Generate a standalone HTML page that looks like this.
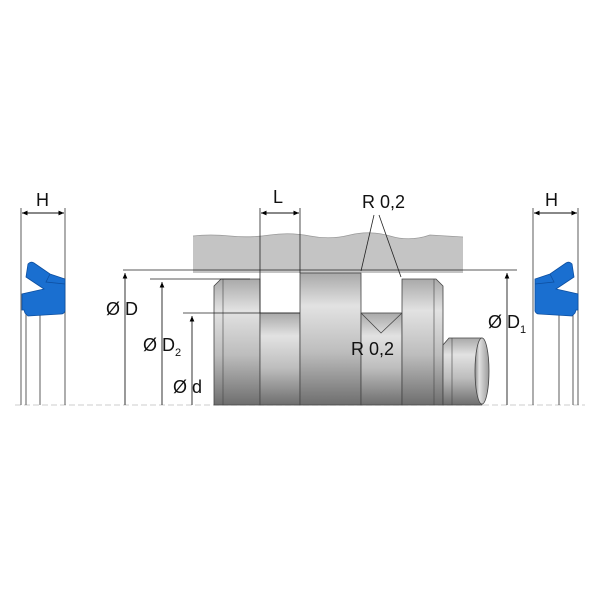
<!DOCTYPE html>
<html><head><style>
body{margin:0;background:#fff;}
svg{display:block;font-family:"Liberation Sans","DejaVu Sans",sans-serif;}
</style></head><body>
<svg width="600" height="600" viewBox="0 0 600 600" xmlns="http://www.w3.org/2000/svg">
<defs>
<linearGradient id="g" x1="0" y1="0" x2="0" y2="1">
<stop offset="0" stop-color="#a9a9a9"/><stop offset="0.25" stop-color="#e2e2e2"/><stop offset="0.6" stop-color="#bdbdbd"/><stop offset="1" stop-color="#6e6e6e"/>
</linearGradient>
<linearGradient id="gh" x1="0" y1="0" x2="1" y2="0">
<stop offset="0" stop-color="#8a8a8a"/><stop offset="0.3" stop-color="#e0e0e0"/><stop offset="1" stop-color="#9a9a9a"/>
</linearGradient>
<marker id="a" markerWidth="8" markerHeight="8" refX="7" refY="3" orient="auto"><path d="M0,0 L7,3 L0,6 z" fill="#000"/></marker>
<g id="seal">
<path d="M28,264 Q31,261 34,263 L50,274 L65,279 L65,311 Q64,314 61,314 L28,316 L25,313 L24,310 L22,310 L22,294 L44,289 L26,277 Z" fill="#1a6fd0" stroke="#0d4fa0" stroke-width="0.8"/>
<path d="M50,274 L46,282 L65,284" fill="none" stroke="#0d4fa0" stroke-width="0.8"/>
</g>
</defs>
<line x1="15" y1="405" x2="585" y2="405" stroke="#ccc" stroke-dasharray="6,3"/>
<g stroke="#333" stroke-width="0.8">
<line x1="21" y1="208" x2="21" y2="405"/><line x1="26" y1="300" x2="26" y2="405"/><line x1="40" y1="300" x2="40" y2="405"/><line x1="65" y1="208" x2="65" y2="405"/>
<line x1="533" y1="208" x2="533" y2="405"/><line x1="559" y1="300" x2="559" y2="405"/><line x1="573" y1="300" x2="573" y2="405"/><line x1="578" y1="208" x2="578" y2="405"/>
</g>
<use href="#seal"/>
<use href="#seal" transform="translate(600,0) scale(-1,1)"/>
<g stroke="#000" stroke-width="0.8" marker-end="url(#a)">
<line x1="22" y1="213" x2="64" y2="213"/>
<line x1="64" y1="213" x2="22" y2="213"/>
<line x1="534" y1="213" x2="577" y2="213"/>
<line x1="577" y1="213" x2="534" y2="213"/>
<line x1="261" y1="213" x2="299" y2="213"/>
<line x1="299" y1="213" x2="261" y2="213"/>
</g>
<path d="M193,236 Q210,234 230,236 T270,235 T310,236 T350,235 T390,236 T430,235 L463,237 L463,273 L193,273 Z" fill="#c4c4c4"/>
<path d="M193,236 Q210,234 230,236 T270,235 T310,236 T350,235 T390,236 T430,235 L463,237" fill="none" stroke="#999" stroke-width="0.8"/>
<path d="M214,286 L221,279 L260,279 L260,405 L214,405 Z" fill="url(#g)" stroke="#444" stroke-width="0.8"/>
<line x1="223" y1="279" x2="223" y2="405" stroke="#444" stroke-width="0.6"/>
<rect x="260" y="313" width="40" height="92" fill="url(#g)" stroke="#444" stroke-width="0.8"/>
<rect x="300" y="273" width="61" height="132" fill="url(#g)" stroke="#444" stroke-width="0.8"/>
<rect x="361" y="313" width="41" height="92" fill="url(#g)" stroke="#444" stroke-width="0.8"/>
<path d="M361,313 L381,333 L402,313" fill="none" stroke="#444" stroke-width="0.8"/>
<path d="M402,279 L436,279 L443,286 L443,405 L402,405 Z" fill="url(#g)" stroke="#444" stroke-width="0.8"/>
<line x1="434" y1="279" x2="434" y2="405" stroke="#444" stroke-width="0.6"/>
<path d="M443,345 L449,338 L482,338 L482,405 L443,405 Z" fill="url(#g)" stroke="#444" stroke-width="0.8"/>
<line x1="452" y1="338" x2="452" y2="405" stroke="#444" stroke-width="0.6"/>
<ellipse cx="482" cy="371" rx="7" ry="33" fill="url(#gh)" stroke="#444" stroke-width="0.8"/>
<g stroke="#222" stroke-width="0.8">
<line x1="123" y1="270" x2="517" y2="270"/>
<line x1="150" y1="279" x2="250" y2="279"/>
<line x1="183" y1="313" x2="300" y2="313"/>
<line x1="260" y1="208" x2="260" y2="313"/>
<line x1="300" y1="208" x2="300" y2="273"/>
<line x1="374" y1="215" x2="361" y2="271"/>
<line x1="379" y1="215" x2="401" y2="277"/>
</g>
<g stroke="#000" stroke-width="0.8" marker-end="url(#a)">
<line x1="125" y1="405" x2="125" y2="273"/>
<line x1="162" y1="405" x2="162" y2="282"/>
<line x1="192" y1="405" x2="192" y2="316"/>
<line x1="507" y1="405" x2="507" y2="273"/>
</g>
<g font-size="18" fill="#111">
<text x="36" y="206">H</text>
<text x="545" y="206">H</text>
<text x="273" y="203">L</text>
<text x="362" y="208">R 0,2</text>
<text x="351" y="355">R 0,2</text>
<text x="106" y="315">Ø D</text>
<text x="143" y="351">Ø D<tspan font-size="11" dy="5">2</tspan></text>
<text x="173" y="393">Ø d</text>
<text x="488" y="328">Ø D<tspan font-size="11" dy="5">1</tspan></text>
</g>
</svg>
</body></html>
